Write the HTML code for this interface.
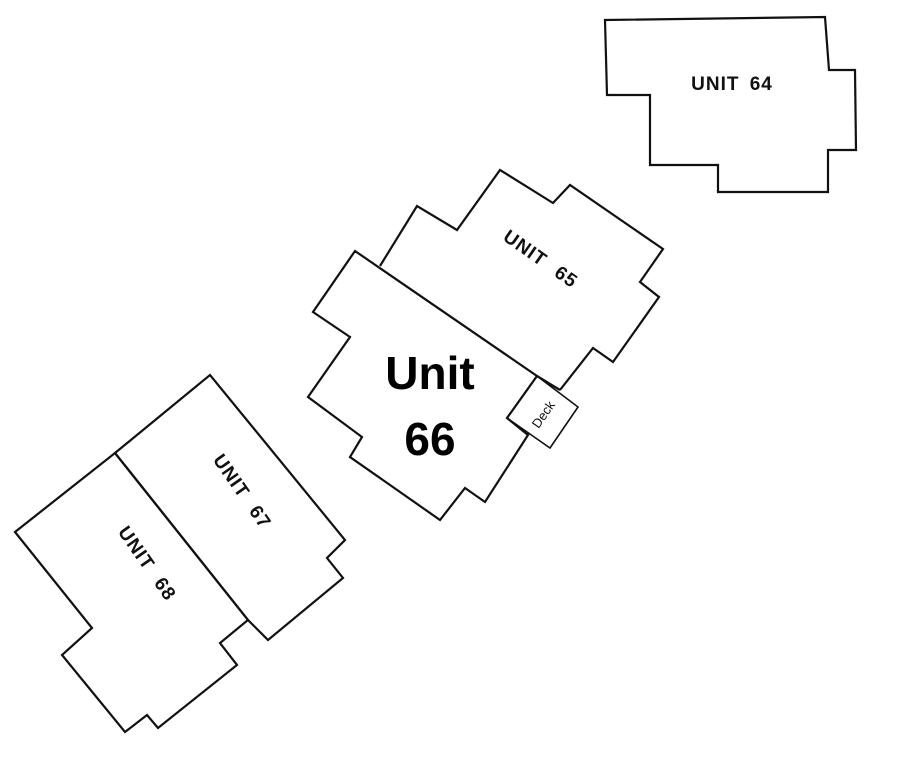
<!DOCTYPE html>
<html><head><meta charset="utf-8"><style>html,body{margin:0;padding:0;background:#fff}</style></head>
<body>
<svg width="908" height="768" viewBox="0 0 908 768" xmlns="http://www.w3.org/2000/svg">
<g fill="none" stroke="#111" stroke-width="2.2" stroke-linejoin="miter">
<polygon points="605,20 825,17 829,70 855,70 856,150 828,150 828,192 718,192 718,165 650,165 650,95 607,95"/>
<polyline points="380,266 417,206 457,230 500,170 553,203 570,185 663,249 640,282 659,297 613,362 593,348 560,390"/>
<polygon points="355,251 537,376 507,418 528,435 485,502 465,488 440,520 350,457 362,437 308,397 350,337 313,312"/>
<polygon points="537,376 578,407 550,448 507,418" stroke-width="1.6"/>
<line x1="537" y1="376" x2="560" y2="390"/>
<polygon points="115,453 210,375 345,540 327,558 343,578 268,640 248,620"/>
<polygon points="15,532 115,453 248,620 220,643 237,665 158,728 147,715 125,732 62,655 92,628"/>
</g>
<g font-family="'Liberation Sans',sans-serif" fill="#111">
<text x="732" y="90" font-size="19" font-weight="bold" text-anchor="middle" letter-spacing="1" word-spacing="4">UNIT 64</text>
<text transform="translate(537,264) rotate(35)" font-size="19" font-weight="bold" text-anchor="middle" letter-spacing="1" word-spacing="8">UNIT 65</text>
<text x="430" y="389" font-size="46" font-weight="bold" fill="#000" text-anchor="middle">Unit</text>
<text x="430" y="455" font-size="46" font-weight="bold" fill="#000" text-anchor="middle">66</text>
<text transform="translate(547,417) rotate(-55)" font-size="13" text-anchor="middle">Deck</text>
<text transform="translate(237,495) rotate(55)" font-size="19" font-weight="bold" text-anchor="middle" letter-spacing="1" word-spacing="8">UNIT 67</text>
<text transform="translate(142,567) rotate(55)" font-size="19" font-weight="bold" text-anchor="middle" letter-spacing="1" word-spacing="8">UNIT 68</text>
</g>
</svg>
</body></html>
